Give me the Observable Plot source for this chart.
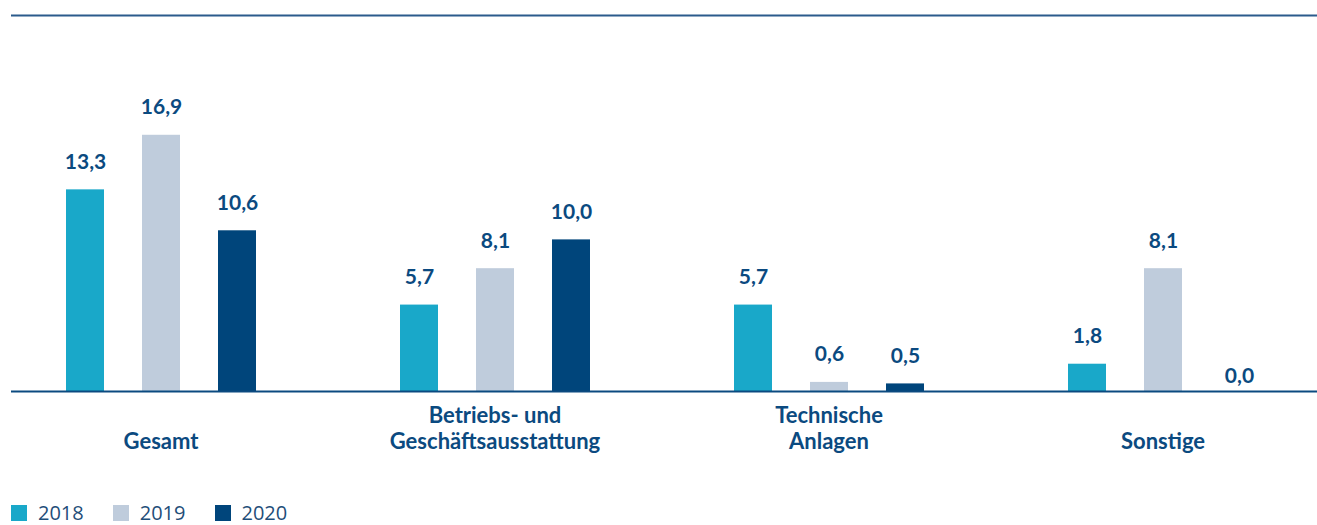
<!DOCTYPE html>
<html>
<head>
<meta charset="utf-8">
<script src="https://cdn.jsdelivr.net/npm/d3@7"></script>
<script src="https://cdn.jsdelivr.net/npm/@observablehq/plot@0.6"></script>
<style>
  html, body { margin: 0; padding: 0; background: #fff; }
  #chart { width: 1317px; position: relative; }
  .legend { display: flex; align-items: center; margin-left: 11px; margin-top: 21px; font-family: "Open Sans", sans-serif; font-size: 20px; line-height: 24px; color: #1f4e79; }
  .legend .item { display: flex; align-items: center; margin-right: 29px; }
  .legend .sw { width: 16px; height: 16px; margin-right: 11px; }
</style>
</head>
<body>
<div id="chart"></div>
<script>
const categories = ["Gesamt", "Betriebs- und\nGeschäftsausstattung", "Technische\nAnlagen", "Sonstige"];
const years = ["2018", "2019", "2020"];
const values2018 = [13.3, 5.7, 5.7, 1.8];
const values2019 = [16.9, 8.1, 0.6, 8.1];
const values2020 = [10.6, 10.0, 0.5, 0.0];
const colors = ["#19a8c9", "#bfccdc", "#00457b"];

const series = [values2018, values2019, values2020];
const data = [];
categories.forEach((c, i) => years.forEach((y, j) => data.push({category: c, year: y, value: series[j][i]})));
const fmt = v => v.toFixed(1).replace(".", ",");
const textColor = "#0b4a80";

const chart = Plot.plot({
  width: 1317,
  height: 480,
  marginTop: 15,
  marginBottom: 89,
  marginLeft: 27,
  marginRight: 20,
  fx: {domain: categories, paddingInner: 0.2, paddingOuter: 0, axis: null},
  x: {domain: years, padding: 0.5, axis: null},
  y: {domain: [0, 24.8], axis: null},
  color: {domain: years, range: colors},
  style: {fontFamily: "Lato, sans-serif"},
  marks: [
    Plot.barY(data, {fx: "category", x: "year", y: "value", fill: "year"}),
    Plot.text(data.filter(d => d.value > 0), {fx: "category", x: "year", y: "value", text: d => fmt(d.value), lineAnchor: "bottom", dy: -21, fill: textColor, fontWeight: "bold", fontSize: 21}),
    Plot.text(data.filter(d => d.value === 0), {fx: "category", x: "year", y: "value", text: d => fmt(d.value), lineAnchor: "bottom", dy: -9, fill: textColor, fontWeight: "bold", fontSize: 21}),
    Plot.text(categories, {fx: d => d, text: d => d, frameAnchor: "bottom", lineAnchor: "bottom", dy: 57, lineHeight: 1.15, fill: textColor, fontWeight: "bold", fontSize: 22})
  ]
});
document.getElementById("chart").appendChild(chart);

const lines = Plot.plot({
  width: 1317,
  height: 480,
  marginTop: 15,
  marginBottom: 89,
  marginLeft: 11,
  marginRight: 0,
  x: {axis: null},
  y: {domain: [0, 24.8], axis: null},
  marks: [
    Plot.ruleY([24.8], {stroke: "#2b5b8c", strokeWidth: 2}),
    Plot.ruleY([0], {stroke: "#0b4a80", strokeWidth: 2})
  ]
});
lines.style.position = "absolute";
lines.style.left = "0px";
lines.style.top = "0px";
lines.style.pointerEvents = "none";
document.getElementById("chart").appendChild(lines);

const legend = document.createElement("div");
legend.className = "legend";
years.forEach((y, j) => {
  const it = document.createElement("div");
  it.className = "item";
  it.innerHTML = `<span class="sw" style="background:${colors[j]}"></span><span>${y}</span>`;
  legend.appendChild(it);
});
document.body.appendChild(legend);
</script>
</body>
</html>
